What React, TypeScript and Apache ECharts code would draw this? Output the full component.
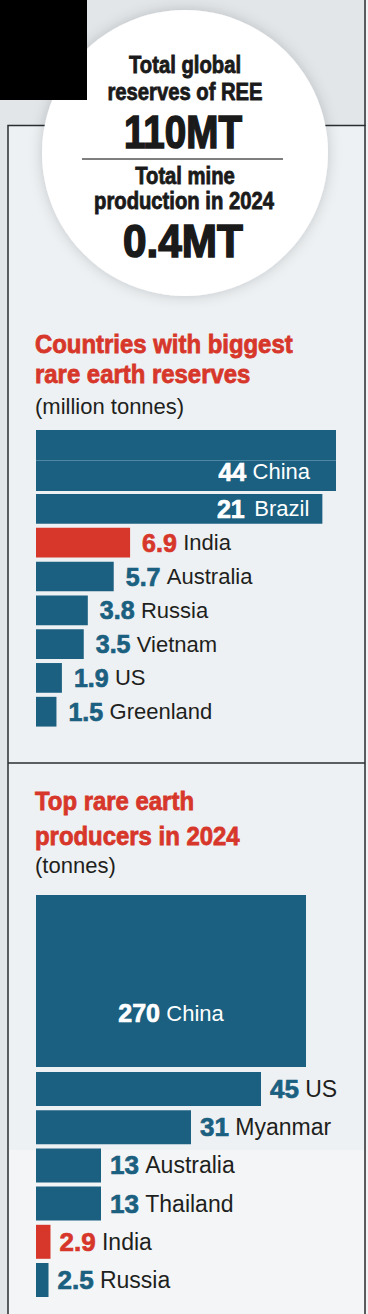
import React, { useEffect, useRef } from "react";
import * as echarts from "echarts";

// ---------------- data ----------------
const reserveCountries = ["China", "Brazil", "India", "Australia", "Russia", "Vietnam", "US", "Greenland"];
const reserveValues = [44, 21, 6.9, 5.7, 3.8, 3.5, 1.9, 1.5];

const producerCountries = ["China", "US", "Myanmar", "Australia", "Thailand", "India", "Russia"];
const producerValues = [270, 45, 31, 13, 13, 2.9, 2.5];

const HIGHLIGHT = "India";

const headlineLines1 = ["Total global", "reserves of REE"];
const headlineValue1 = "110MT";
const headlineLines2 = ["Total mine", "production in 2024"];
const headlineValue2 = "0.4MT";

const reserveTitle = ["Countries with biggest", "rare earth reserves"];
const reserveUnit = "(million tonnes)";
const producerTitle = ["Top rare earth", "producers in 2024"];
const producerUnit = "(tonnes)";

// ---------------- style ----------------
const TEAL = "#1b6080";
const RED = "#d7372a";
const INK = "#1e1f20";
const FONT = "'Liberation Sans', Arial, sans-serif";

const W = 368;
const H = 1314;

const RESERVE_MAX = 22; // axis truncation (China bar broken)
const PRODUCER_MAX = 54;

function colorFor(name: string) {
  return name === HIGHLIGHT ? RED : TEAL;
}

function num(color: string, size: number) {
  return {
    fontFamily: FONT, fontWeight: "bold", fontSize: size, color, lineHeight: 28,
    textBorderColor: color, textBorderWidth: 0.7,
  };
}

function richStyles(numSize: number, nameSize: number) {
  return {
    nT: num(TEAL, numSize),
    nR: num(RED, numSize),
    nW: num("#ffffff", numSize),
    c: { fontFamily: FONT, fontSize: nameSize, color: INK, lineHeight: 28, padding: [0, 0, 0, 3] },
    cW: { fontFamily: FONT, fontSize: nameSize, color: "#ffffff", lineHeight: 28, padding: [0, 0, 0, 3] },
  };
}

function outsideLabel(names: string[], distance: number, numSize: number, nameSize: number) {
  return {
    show: true,
    position: "right",
    distance,
    formatter: (p: any) => {
      const key = names[p.dataIndex] === HIGHLIGHT ? "nR" : "nT";
      return `{${key}|${p.value}} {c|${names[p.dataIndex]}}`;
    },
    rich: richStyles(numSize, nameSize),
  };
}

export default function App() {
  const ref = useRef<HTMLDivElement>(null);

  useEffect(() => {
    document.body.style.margin = "0";
    const chart = echarts.init(ref.current!, null, { renderer: "svg", width: W, height: H });

    const resLead = reserveCountries.slice(0, 1);
    const resLeadVals = reserveValues.slice(0, 1);
    const resRest = reserveCountries.slice(1);
    const resRestVals = reserveValues.slice(1);
    const prodLead = producerCountries.slice(0, 1);
    const prodLeadVals = producerValues.slice(0, 1);
    const prodRest = producerCountries.slice(1);
    const prodRestVals = producerValues.slice(1);

    const grids = [
      { left: 36, top: 430, width: 300, height: 61 },
      { left: 36, top: 492, width: 300, height: 236.6 },
      { left: 36, top: 895, width: 270, height: 172 },
      { left: 36, top: 1069.9, width: 270, height: 229.2 },
    ];
    const maxes = [RESERVE_MAX, RESERVE_MAX, PRODUCER_MAX, PRODUCER_MAX];
    const cats = [resLead, resRest, prodLead, prodRest];

    const xAxis = grids.map((_, i) => ({
      type: "value", gridIndex: i, min: 0, max: maxes[i], show: false,
    }));
    const yAxis = grids.map((_, i) => ({
      type: "category", gridIndex: i, data: cats[i], inverse: true, show: false,
    }));

    const mkData = (names: string[], vals: number[]) =>
      vals.map((v, k) => ({ value: v, itemStyle: { color: colorFor(names[k]) } }));

    const series: any[] = [
      {
        type: "bar", xAxisIndex: 0, yAxisIndex: 0, barCategoryGap: "0%",
        data: mkData(resLead, resLeadVals),
        label: {
          show: true, position: "insideRight", distance: 26, offset: [0, 11],
          formatter: (p: any) => `{nW|${p.value}} {cW|${resLead[p.dataIndex]}}`,
          rich: richStyles(25, 22),
        },
      },
      {
        type: "bar", xAxisIndex: 1, yAxisIndex: 1, barCategoryGap: "12%",
        data: mkData(resRest, resRestVals),
        label: outsideLabel(resRest, 12, 25, 22),
      },
      {
        type: "bar", xAxisIndex: 2, yAxisIndex: 2, barCategoryGap: "0%",
        data: mkData(prodLead, prodLeadVals),
        label: {
          show: true, position: "inside", offset: [0, 32],
          formatter: (p: any) => `{nW|${p.value}} {cW|${prodLead[p.dataIndex]}}`,
          rich: richStyles(25, 22),
        },
      },
      {
        type: "bar", xAxisIndex: 3, yAxisIndex: 3, barCategoryGap: "11%",
        data: mkData(prodRest, prodRestVals),
        label: outsideLabel(prodRest, 9, 26, 23),
      },
    ];
    // Brazil (first of rest) sits inside its bar in white
    series[1].data[0].label = {
      position: "insideRight", distance: 13,
      formatter: (p: any) => `{nW|${p.value}}  {cW|${resRest[p.dataIndex]}}`,
    };

    const txt = (text: string, x: number, y: number, size: number, opts: any = {}) => ({
      type: "text", x, y, scaleX: opts.scaleX ?? 1, z: 10,
      style: {
        text, fill: opts.fill ?? "#1a1a1a", font: `${opts.weight ?? "bold"} ${size}px ${FONT}`,
        textAlign: opts.align ?? "center", textVerticalAlign: "middle",
        stroke: opts.heavy ? (opts.fill ?? "#1a1a1a") : undefined,
        lineWidth: opts.heavy ?? 0,
      },
    });

    const graphic: any[] = [
      { type: "rect", z: -10, shape: { x: 0, y: 0, width: W, height: H }, style: { fill: "#e2e6e9" } },
      { type: "rect", z: -9, shape: { x: 366, y: 0, width: 2, height: H }, style: { fill: "#f1f3f4" } },
      { type: "rect", z: -8, shape: { x: 8, y: 125.5, width: 357, height: 1200 }, style: { fill: "#eef1f3", stroke: "#2a2e31", lineWidth: 1.5 } },
      { type: "rect", z: -7, shape: { x: 9, y: 1150, width: 355, height: 170 }, style: { fill: "#f3f5f6" } },
      { type: "line", z: -6, shape: { x1: 365, y1: 0, x2: 365, y2: 126 }, style: { stroke: "#2a2e31", lineWidth: 1.5 } },
      { type: "line", z: -6, shape: { x1: 8, y1: 763, x2: 365, y2: 763 }, style: { stroke: "#2a2e31", lineWidth: 1.5 } },
      {
        type: "circle", z: 1, shape: { cx: 185, cy: 153, r: 143 },
        style: { fill: "#ffffff", shadowBlur: 14, shadowColor: "rgba(0,0,0,0.18)" },
      },
      { type: "rect", z: 2, shape: { x: 0, y: 0, width: 87, height: 100 }, style: { fill: "#000000" } },
      txt(headlineLines1[0], 185, 65, 23, { scaleX: 0.88, heavy: 0.8 }),
      txt(headlineLines1[1], 185, 92.5, 23, { scaleX: 0.88, heavy: 0.8 }),
      txt(headlineValue1, 183, 132, 46, { scaleX: 0.84, heavy: 1.6 }),
      { type: "line", z: 10, shape: { x1: 82, y1: 159, x2: 283, y2: 159 }, style: { stroke: "#555", lineWidth: 1.5 } },
      txt(headlineLines2[0], 185, 176, 23, { scaleX: 0.88, heavy: 0.8 }),
      txt(headlineLines2[1], 184, 201.5, 23, { scaleX: 0.88, heavy: 0.8 }),
      txt(headlineValue2, 183, 240.5, 46, { scaleX: 0.92, heavy: 1.6 }),
      txt(reserveTitle[0], 35, 344, 26, { scaleX: 0.92, align: "left", fill: RED, heavy: 0.8 }),
      txt(reserveTitle[1], 35, 374, 26, { scaleX: 0.92, align: "left", fill: RED, heavy: 0.8 }),
      txt(reserveUnit, 35, 406, 22, { weight: "normal", align: "left", fill: INK }),
      txt(producerTitle[0], 35, 801, 26, { scaleX: 0.92, align: "left", fill: RED, heavy: 0.8 }),
      txt(producerTitle[1], 35, 835.5, 26, { scaleX: 0.92, align: "left", fill: RED, heavy: 0.8 }),
      txt(producerUnit, 35, 865, 22, { weight: "normal", align: "left", fill: INK }),
      { type: "line", z: 10, shape: { x1: 36, y1: 460.5, x2: 336, y2: 460.5 }, style: { stroke: "#4f88a3", lineWidth: 1 } },
    ];

    chart.setOption({
      animation: false,
      grid: grids,
      xAxis,
      yAxis,
      series,
      graphic: { elements: graphic },
    });

    return () => chart.dispose();
  }, []);

  return <div ref={ref} style={{ width: W, height: H }} />;
}
